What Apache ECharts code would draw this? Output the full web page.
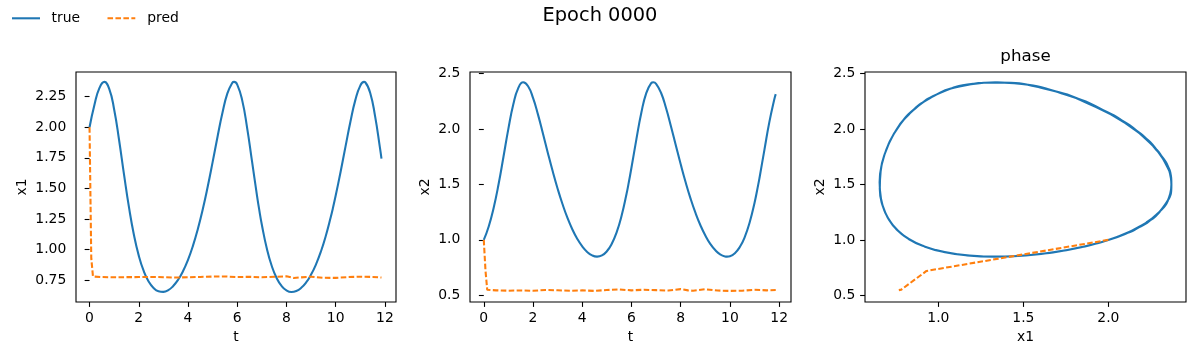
<!DOCTYPE html>
<html><head><meta charset="utf-8">
<script src="https://cdn.jsdelivr.net/npm/echarts@6/dist/echarts.min.js"></script>
<style>html,body{margin:0;padding:0;background:#fff}#c{width:1200px;height:360px}</style>
</head><body><div id="c"></div>
<script>
// ---- data ----
const tTrue = [0,0.2,0.4,0.6,0.8,1.0,1.2,1.4,1.6,1.8,2.0,2.2,2.4,2.6,2.8,3.0,3.2,3.4,3.6,3.8,4.0,4.2,4.4,4.6,4.8,5.0,5.2,5.4,5.6,5.8,5.875,6.0,6.2,6.4,6.6,6.8,6.888,7.0,7.2,7.4,7.6,7.8,8.0,8.2,8.4,8.6,8.8,9.0,9.2,9.4,9.6,9.8,9.88,10.0,10.2,10.4,10.6,10.8,11.0,11.151,11.2,11.4,11.6,11.8,11.86];
const x1True = [2.000,2.185,2.320,2.371,2.314,2.146,1.896,1.615,1.349,1.124,0.951,0.826,0.740,0.687,0.660,0.655,0.669,0.703,0.754,0.825,0.917,1.031,1.169,1.330,1.514,1.715,1.923,2.119,2.277,2.364,2.371,2.349,2.222,1.998,1.723,1.446,1.333,1.204,1.011,0.868,0.768,0.704,0.667,0.654,0.662,0.688,0.732,0.796,0.880,0.985,1.114,1.266,1.333,1.442,1.637,1.844,2.047,2.224,2.341,2.371,2.368,2.283,2.091,1.830,1.744];
const x2True = [1.000,1.121,1.288,1.501,1.749,2.003,2.222,2.368,2.420,2.384,2.279,2.131,1.961,1.786,1.618,1.461,1.321,1.198,1.094,1.008,0.941,0.891,0.860,0.849,0.860,0.897,0.965,1.070,1.219,1.415,1.500,1.652,1.908,2.146,2.323,2.412,2.420,2.407,2.326,2.191,2.027,1.853,1.681,1.519,1.372,1.243,1.132,1.039,0.964,0.908,0.870,0.851,0.849,0.853,0.880,0.935,1.025,1.157,1.335,1.500,1.558,1.811,2.061,2.265,2.313];
const tPred = [0,0.07,0.14,0.5,1.0,1.5,2.0,2.5,3.0,3.5,4.0,4.5,5.0,5.5,6.0,6.5,7.0,7.5,8.0,8.3,8.5,9.0,9.5,10.0,10.5,11.0,11.5,11.86];
const x1Pred = [2.000,0.930,0.780,0.776,0.774,0.775,0.776,0.777,0.775,0.772,0.774,0.777,0.780,0.781,0.776,0.778,0.774,0.778,0.782,0.768,0.772,0.779,0.770,0.769,0.776,0.779,0.777,0.772];
const x2Pred = [1.000,0.720,0.550,0.545,0.542,0.544,0.541,0.548,0.546,0.541,0.545,0.540,0.548,0.553,0.545,0.550,0.547,0.543,0.556,0.545,0.541,0.555,0.543,0.540,0.542,0.550,0.545,0.548];
const tTicks = [0,2,4,6,8,10,12];
const x1Ticks = [0.75,1.00,1.25,1.50,1.75,2.00,2.25];
const x2Ticks = [0.5,1.0,1.5,2.0,2.5];
const phaseXTicks = [1.0,1.5,2.0];
const seriesNames = ['true', 'pred'];

const FONT = 'DejaVu Sans';
const BLUE = '#1f77b4', ORANGE = '#ff7f0e';
const LW = 2.08, DASH = [5.55, 2.4];

function pairs(a, b) { return a.map((v, i) => [v, b[i]]); }

function axis(o) {
  return {
    type: 'value', gridIndex: o.grid, min: o.min, max: o.max,
    name: o.name, nameLocation: 'middle', nameGap: o.gap,
    nameTextStyle: { color: '#000', fontSize: 13.9, fontFamily: FONT },
    splitLine: { show: false }, axisLine: { show: false },
    axisTick: { show: true, length: 4.9, lineStyle: { color: '#000', width: 1.1 }, customValues: o.ticks },
    axisLabel: { show: true, color: '#000', fontSize: 13.9, fontFamily: FONT, margin: 9.7,
      customValues: o.ticks, formatter: v => Number(v).toFixed(o.dec) }
  };
}
function grid(left, width) {
  return { left: left, top: 72, width: width, height: 230, show: true,
    borderColor: '#000', borderWidth: 1.1, backgroundColor: 'transparent', containLabel: false };
}
function line(name, xi, data, color, dashed, smooth) {
  return { type: 'line', name: name, xAxisIndex: xi, yAxisIndex: xi, data: data,
    showSymbol: false, symbol: 'none', smooth: smooth, animation: false,
    lineStyle: { color: color, width: LW, type: dashed ? DASH : 'solid' },
    itemStyle: { color: color } };
}
function txt(x, y, s, size, align) {
  return { type: 'text', x: x, y: y, silent: true,
    style: { text: s, fill: '#000', font: size + 'px "DejaVu Sans"', align: align, verticalAlign: 'middle' } };
}
function handle(x1, x2, y, color, dashed) {
  return { type: 'line', silent: true, shape: { x1: x1, y1: y, x2: x2, y2: y },
    style: { stroke: color, lineWidth: LW, lineDash: dashed ? DASH : null } };
}

const chart = echarts.init(document.getElementById('c'), null, { renderer: 'canvas' });
chart.setOption({
  animation: false,
  backgroundColor: '#fff',
  textStyle: { fontFamily: FONT },
  graphic: [
    txt(600, 16, 'Epoch 0000', 19.4, 'center'),
    txt(1025.5, 57, 'phase', 16.7, 'center'),
    handle(12, 40, 18.3, BLUE, false),
    txt(51.5, 18.3, seriesNames[0], 13.9, 'left'),
    handle(107.5, 135.3, 18.3, ORANGE, true),
    txt(147.3, 18.3, seriesNames[1], 13.9, 'left')
  ],
  grid: [grid(76, 320), grid(470, 321), grid(865, 321)],
  xAxis: [
    axis({ grid: 0, min: -0.55, max: 12.45, ticks: tTicks, dec: 0, name: 't', gap: 27 }),
    axis({ grid: 1, min: -0.56, max: 12.48, ticks: tTicks, dec: 0, name: 't', gap: 27 }),
    axis({ grid: 2, min: 0.568, max: 2.457, ticks: phaseXTicks, dec: 1, name: 'x1', gap: 27 })
  ],
  yAxis: [
    axis({ grid: 0, min: 0.572, max: 2.452, ticks: x1Ticks, dec: 2, name: 'x1', gap: 47 }),
    axis({ grid: 1, min: 0.44, max: 2.513, ticks: x2Ticks, dec: 1, name: 'x2', gap: 38 }),
    axis({ grid: 2, min: 0.44, max: 2.514, ticks: x2Ticks, dec: 1, name: 'x2', gap: 38 })
  ],
  series: [
    line(seriesNames[0], 0, pairs(tTrue, x1True), BLUE, false, true),
    line(seriesNames[1], 0, pairs(tPred, x1Pred), ORANGE, true, false),
    line(seriesNames[0], 1, pairs(tTrue, x2True), BLUE, false, true),
    line(seriesNames[1], 1, pairs(tPred, x2Pred), ORANGE, true, false),
    line(seriesNames[0], 2, pairs(x1True, x2True), BLUE, false, true),
    line(seriesNames[1], 2, pairs(x1Pred, x2Pred), ORANGE, true, false)
  ]
});
</script></body></html>
